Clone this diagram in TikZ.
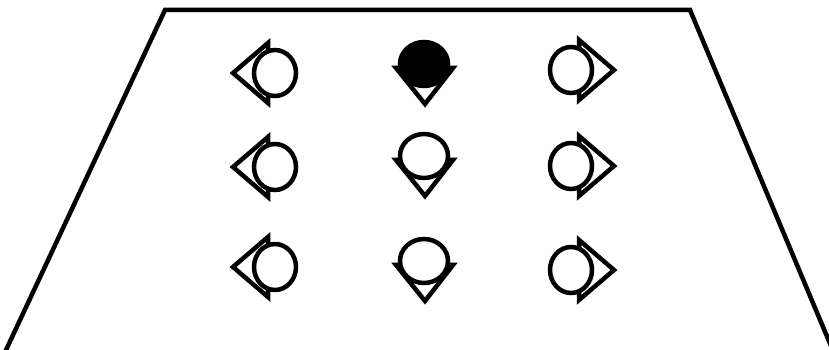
\documentclass[tikz,border=0pt]{standalone}
\usepackage{tikz}

\begin{document}
\begin{tikzpicture}[x=0.02cm,y=-0.02cm,line width=0.09cm,
  head/.style={draw,fill=white},
  nose/.style={draw,line join=miter}]
  \useasboundingbox (0,0) rectangle (829,350);
  \clip (0,0) rectangle (829,350);
  % stage outline
  \draw (-1,365) -- (165,10) -- (690,10) -- (839,365);
  % left column, facing left
  \foreach \y in {73,167,267} {
    \path[nose] (268,\y-30) -- (233,\y) -- (268,\y+30) -- cycle;
    \path[head] (275,\y) ellipse (21 and 23);
  }
  % middle column, facing down
  \foreach \y/\f in {64/black,156/white,261/white} {
    \path[nose] (396,\y+4) -- (425,\y+40) -- (453,\y+4) -- cycle;
    \path[head,fill=\f] (424,\y) ellipse (24 and 22);
  }
  % right column, facing right
  \foreach \y in {70,166,270} {
    \path[nose] (579,\y-30) -- (614,\y) -- (579,\y+30) -- cycle;
    \path[head] (571,\y) ellipse (21 and 23);
  }
\end{tikzpicture}
\end{document}
